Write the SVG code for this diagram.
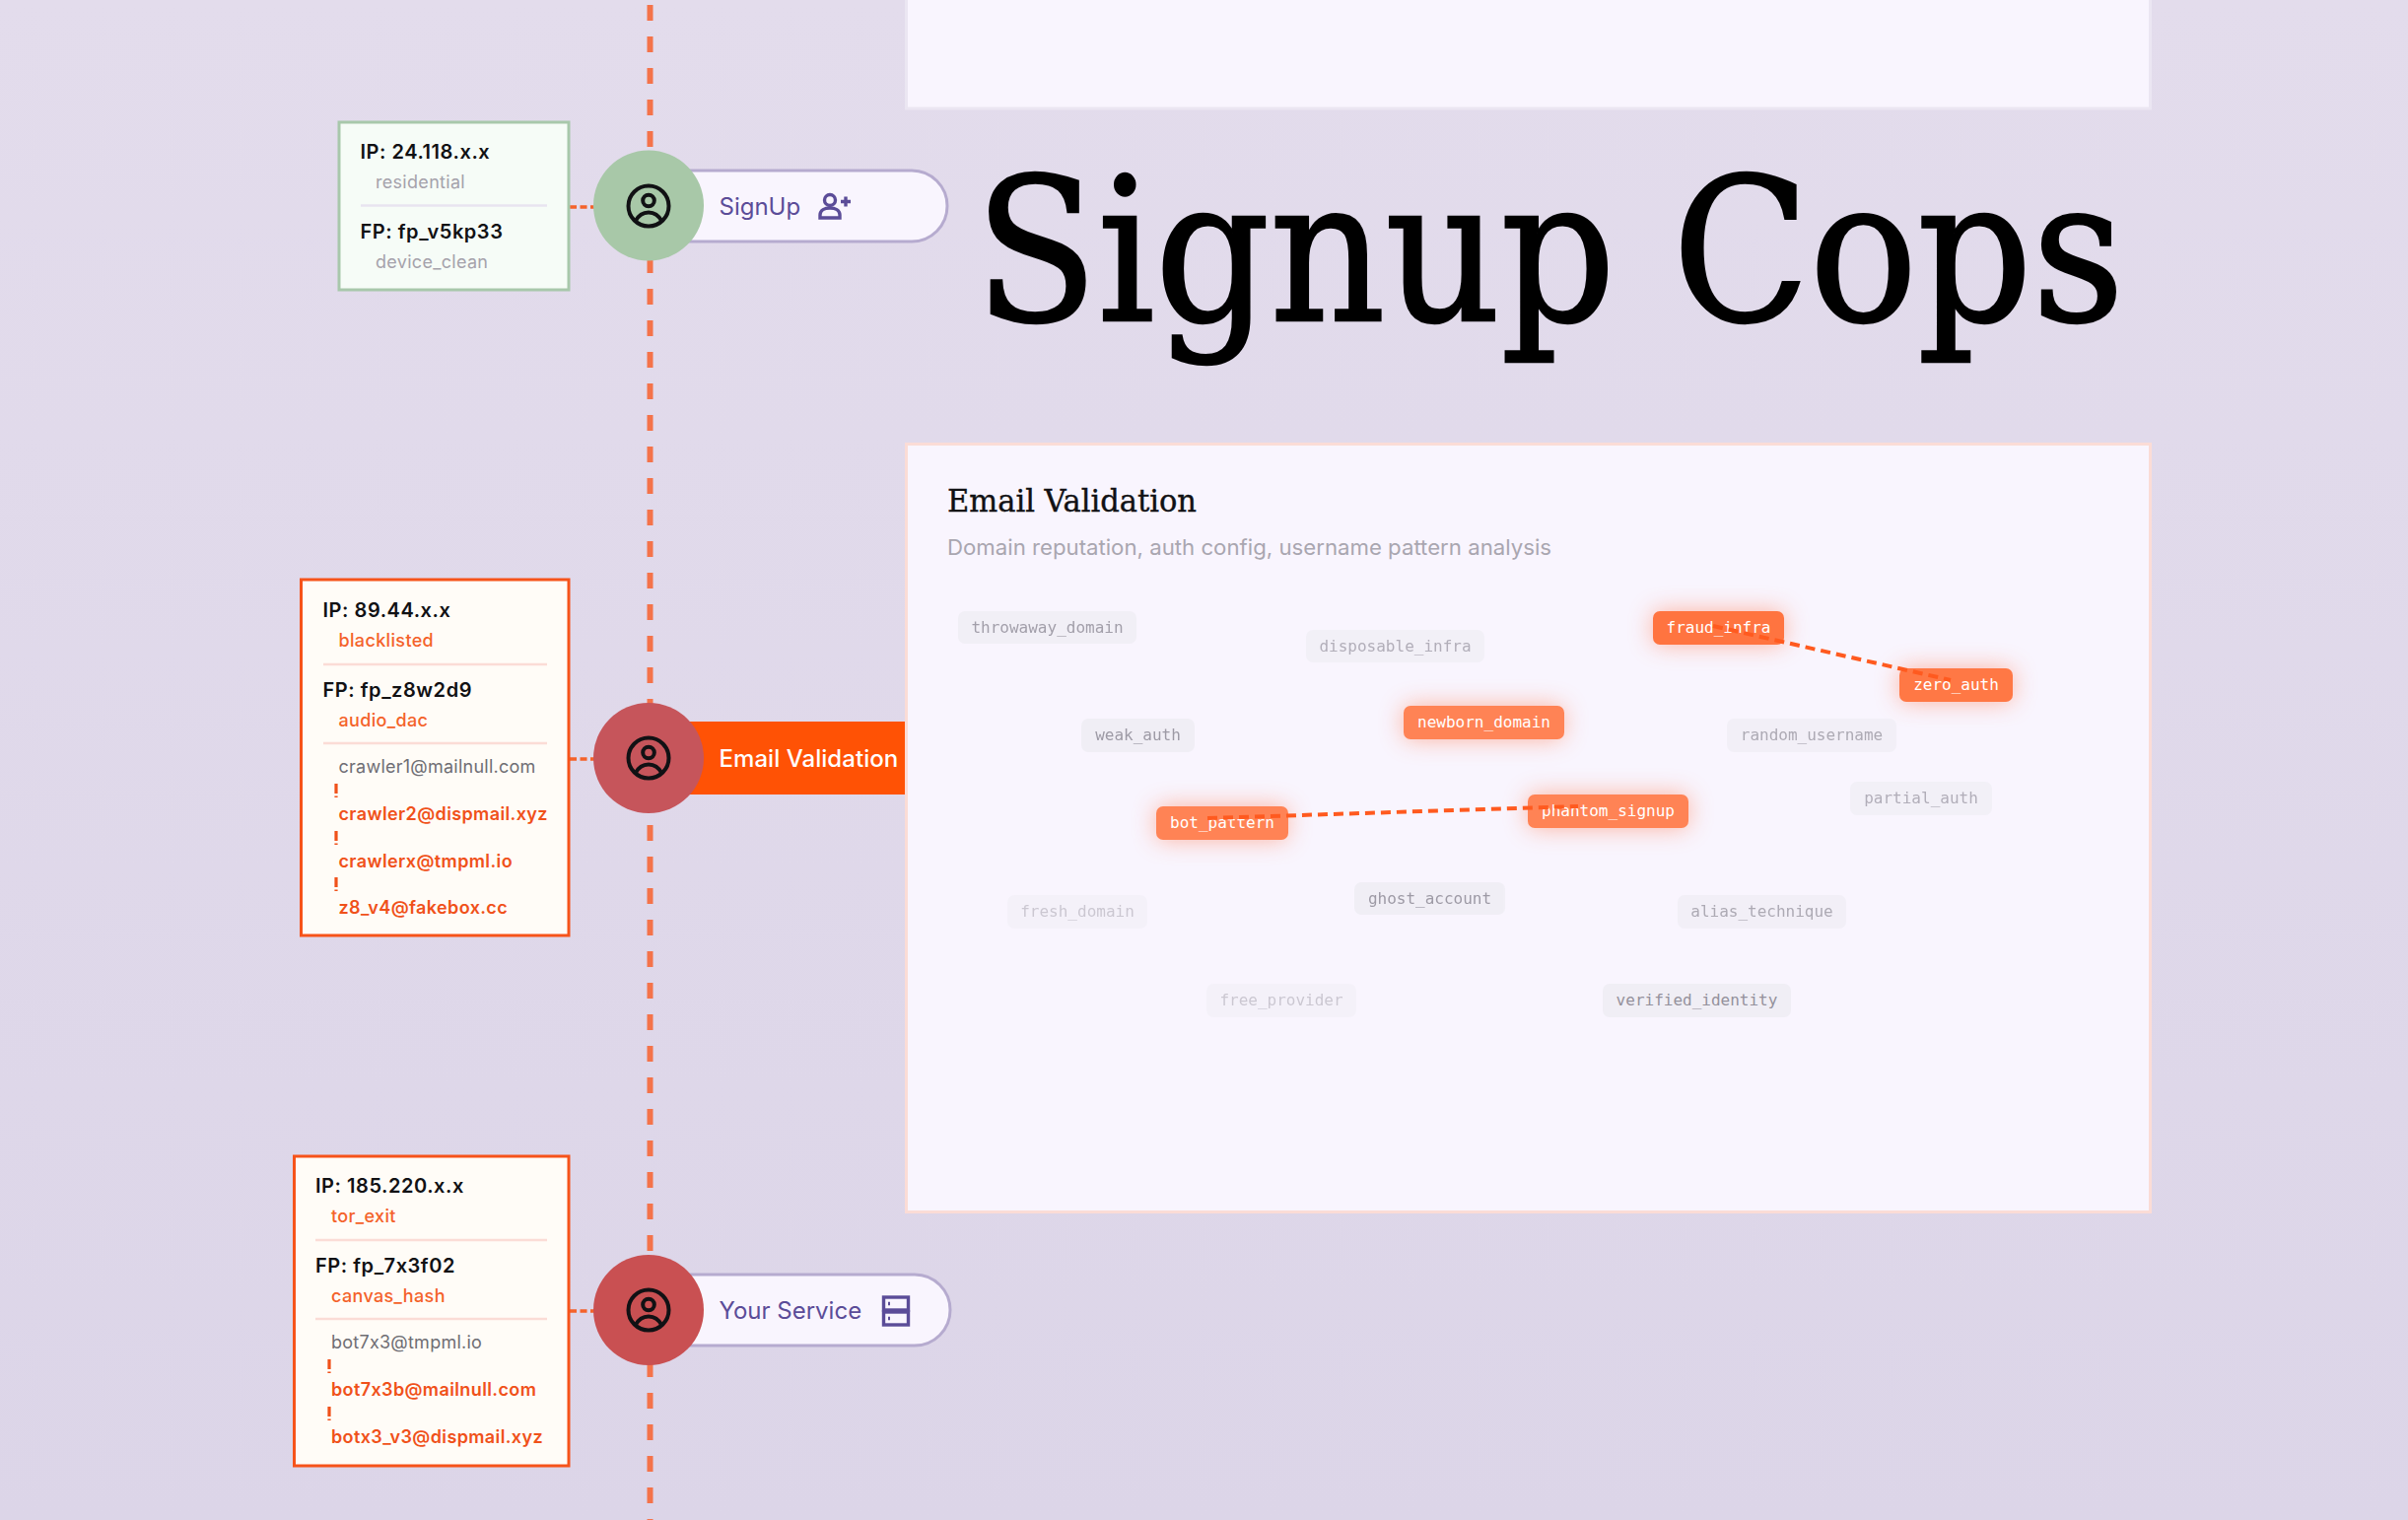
<svg xmlns="http://www.w3.org/2000/svg" width="2443" height="1542" viewBox="0 0 2443 1542">
<style>
text{font-variant-ligatures:none;font-feature-settings:"calt" 0,"liga" 0}
.sans{font-family:"Inter","Liberation Sans",sans-serif}
.head{font-size:20px;font-weight:600;letter-spacing:.55px;fill:#111114;font-family:"Inter","Liberation Sans",sans-serif}
.sub{font-size:18px;letter-spacing:.3px;font-family:"Inter","Liberation Sans",sans-serif}
.grey{fill:#a5a2ab}
.or{fill:#f4622a;font-weight:500;letter-spacing:.35px}
.mail{font-size:18px;font-family:"Inter","Liberation Sans",sans-serif}
.mailg{fill:#6f6e74;letter-spacing:.25px}
.mailr{fill:#f0511a;font-weight:600;letter-spacing:.38px}
.lab{font-size:24px;fill:#5b4c98;font-family:"Inter","Liberation Sans",sans-serif}
.chip{font-family:"DejaVu Sans Mono","Liberation Mono",monospace;font-size:16px;text-anchor:middle}
.cg rect{fill:#f0eef5}
.cg text{fill:#94919c}
.co text{fill:#fff}
.ico{fill:none;stroke:#111114;stroke-width:4}
.ptr{fill:none;stroke:#5b4c98;stroke-width:3.4}
.sep{stroke-width:2.5}
.link{stroke:#ff5a1f;stroke-width:4;stroke-dasharray:10 6;fill:none}
.tick{stroke:#f0511a;stroke-width:3.2;stroke-dasharray:10 2.5 3 20;fill:none}
.stub{stroke:#f4622a;stroke-width:3.6;stroke-dasharray:7 3.5;fill:none}
.card{fill:#f9f5fe}
.pill{fill:#f9f5fe;stroke:#b6abcf;stroke-width:3}
</style>
<defs>
<linearGradient id="bg" x1="0" y1="0" x2="0" y2="1"><stop offset="0" stop-color="#e3dcec"/><stop offset="1" stop-color="#dcd5e8"/></linearGradient>
<filter id="glow" x="-50%" y="-150%" width="200%" height="400%"><feGaussianBlur stdDeviation="12"/></filter>
<g id="person"><circle cx="0" cy="0" r="20.5" class="ico"/><circle cx="0" cy="-5.5" r="5.8" class="ico"/><path d="M-13.5 15.5C-9.5 8-4 6.5 0 6.5S9.5 8 13.5 15.5" class="ico"/></g>
</defs>
<rect width="2443" height="1542" fill="url(#bg)"/>
<g id="connectors">
<line x1="659.5" y1="5" x2="659.5" y2="1542" stroke="#f4734a" stroke-width="6" stroke-dasharray="16 16"/>
<line x1="578" y1="210" x2="603" y2="210" class="stub"/>
<line x1="578" y1="770" x2="603" y2="770" class="stub"/>
<line x1="578" y1="1330" x2="603" y2="1330" class="stub"/>
</g>
<g id="title"><text x="989" y="325" font-family="DejaVu Serif Condensed,DejaVu Serif,serif" font-size="202" fill="#000" stroke="#000" stroke-width="2.4" textLength="1166" lengthAdjust="spacingAndGlyphs">Signup Cops</text></g>
<g id="card-top"><rect x="919.5" y="-10" width="1262" height="120" class="card" stroke="#ebe6f2" stroke-width="3"/></g>
<g id="card-email">
<rect x="919.5" y="450.5" width="1262" height="779" class="card" stroke="#fbdcd6" stroke-width="3"/>
<text x="961" y="519" font-family="DejaVu Serif Condensed,DejaVu Serif,serif" font-size="31" fill="#111114" stroke="#111114" stroke-width=".35" textLength="253" lengthAdjust="spacingAndGlyphs">Email Validation</text>
<text x="961" y="562.5" class="sans" font-size="21.5" fill="#a9a6b0" textLength="613" lengthAdjust="spacingAndGlyphs">Domain reputation, auth config, username pattern analysis</text>
</g>
<g id="chips">
<g filter="url(#glow)" fill="#ff7043" opacity="0.5">
<rect x="1424" y="716" width="162" height="34" rx="7"/><rect x="1173" y="818" width="133" height="34" rx="7"/><rect x="1550" y="806" width="163" height="34" rx="7"/><rect x="1677" y="620" width="133" height="34" rx="7"/><rect x="1927" y="678" width="115" height="34" rx="7"/>
</g>
<g id="chip-throwaway_domain" class="cg" opacity=".85"><rect x="972" y="620" width="181" height="33" rx="7"/><text x="1062.5" y="642" class="chip">throwaway_domain</text></g>
<g id="chip-disposable_infra" class="cg" opacity=".7"><rect x="1325" y="639" width="181" height="33" rx="7"/><text x="1415.5" y="661" class="chip">disposable_infra</text></g>
<g id="chip-weak_auth" class="cg" opacity=".9"><rect x="1097" y="729" width="115" height="34" rx="7"/><text x="1154.5" y="751" class="chip">weak_auth</text></g>
<g id="chip-random_username" class="cg" opacity=".75"><rect x="1752" y="729" width="172" height="34" rx="7"/><text x="1838" y="751" class="chip">random_username</text></g>
<g id="chip-partial_auth" class="cg" opacity=".7"><rect x="1877" y="793" width="144" height="34" rx="7"/><text x="1949" y="815" class="chip">partial_auth</text></g>
<g id="chip-fresh_domain" class="cg" opacity=".45"><rect x="1022" y="908" width="142" height="34" rx="7"/><text x="1093" y="930" class="chip">fresh_domain</text></g>
<g id="chip-ghost_account" class="cg" opacity=".9"><rect x="1374" y="895" width="153" height="33" rx="7"/><text x="1450.5" y="917" class="chip">ghost_account</text></g>
<g id="chip-alias_technique" class="cg" opacity=".75"><rect x="1702" y="908" width="171" height="34" rx="7"/><text x="1787.5" y="930" class="chip">alias_technique</text></g>
<g id="chip-free_provider" class="cg" opacity=".45"><rect x="1224" y="998" width="152" height="34" rx="7"/><text x="1300" y="1020" class="chip">free_provider</text></g>
<g id="chip-verified_identity" class="cg" opacity="1"><rect x="1626" y="998" width="191" height="34" rx="7"/><text x="1721.5" y="1020" class="chip">verified_identity</text></g>
<g id="chip-newborn_domain" class="co"><rect x="1424" y="716" width="163" height="34" rx="7" fill="#ff8355"/><text x="1505.5" y="738" class="chip">newborn_domain</text></g>
<g id="chip-bot_pattern" class="co"><rect x="1173" y="818" width="134" height="34" rx="7" fill="#ff8355"/><text x="1240" y="840" class="chip">bot_pattern</text></g>
<g id="chip-phantom_signup" class="co"><rect x="1550" y="806" width="163" height="34" rx="7" fill="#ff8355"/><text x="1631.5" y="828" class="chip">phantom_signup</text></g>
<g id="chip-fraud_infra" class="co"><rect x="1677" y="620" width="133" height="34" rx="7" fill="#ff7440"/><text x="1743.5" y="642" class="chip">fraud_infra</text></g>
<g id="chip-zero_auth" class="co"><rect x="1927" y="678" width="115" height="34" rx="7" fill="#ff7845"/><text x="1984.5" y="700" class="chip">zero_auth</text></g>
</g>
<g id="chip-links">
<line x1="1738" y1="635" x2="1979" y2="690" class="link"/>
<line x1="1225" y1="830" x2="1601" y2="818" class="link"/>
</g>
<g id="node-signup">
<rect x="640" y="173" width="321" height="72" rx="36" class="pill"/>
<circle cx="658" cy="208.5" r="56" fill="#a8c8a8"/>
<use href="#person" x="658" y="209"/>
<text x="729.5" y="218" class="lab">SignUp</text>
<g class="ptr"><circle cx="842" cy="203" r="5.5"/><path d="M832 221v-3c0-5 5-7 10-7s10 2 10 7v3zM853 204.5h10M858 199.5v10"/></g>
</g>
<g id="node-email">
<rect x="658" y="732" width="260" height="74" fill="#ff5205"/>
<circle cx="658" cy="769" r="56" fill="#c6555b"/>
<use href="#person" x="658" y="769"/>
<text x="729.5" y="778" class="lab" style="fill:#fff;letter-spacing:.05px" font-weight="500">Email Validation</text>
</g>
<g id="node-service">
<rect x="640" y="1293" width="324" height="72" rx="36" class="pill"/>
<circle cx="658" cy="1329" r="56" fill="#c95052"/>
<use href="#person" x="658" y="1329"/>
<text x="729.5" y="1338" class="lab">Your Service</text>
<g class="ptr"><rect x="896.5" y="1316" width="25" height="13"/><rect x="896.5" y="1331" width="25" height="13"/><path d="M901 1322.5h2M901 1337.5h2"/></g>
</g>
<g id="box-signup">
<rect x="344" y="124" width="233" height="170" fill="#f6fcf7" stroke="#a8c8ab" stroke-width="3"/>
<text x="365.5" y="161" class="head">IP: 24.118.x.x</text>
<text x="381" y="191" class="sub grey">residential</text>
<line x1="366" y1="208.5" x2="555" y2="208.5" stroke="#e8e4f0" class="sep"/>
<text x="365.5" y="242" class="head">FP: fp_v5kp33</text>
<text x="381" y="272" class="sub grey">device_clean</text>
</g>
<g id="box-email">
<rect x="305.5" y="588" width="271.5" height="361" fill="#fffcf7" stroke="#f6531a" stroke-width="3"/>
<text x="327.5" y="626" class="head">IP: 89.44.x.x</text>
<text x="343.5" y="656" class="sub or">blacklisted</text>
<line x1="328" y1="674" x2="555" y2="674" stroke="#fbdcd6" class="sep"/>
<text x="327.5" y="707" class="head">FP: fp_z8w2d9</text>
<text x="343.5" y="737" class="sub or">audio_dac</text>
<line x1="328" y1="754" x2="555" y2="754" stroke="#fbdcd6" class="sep"/>
<text x="343.5" y="783.5" class="mail mailg">crawler1@mailnull.com</text>
<line x1="341" y1="795" x2="341" y2="809" class="tick"/>
<text x="343.5" y="832" class="mail mailr">crawler2@dispmail.xyz</text>
<line x1="341" y1="843" x2="341" y2="857" class="tick"/>
<text x="343.5" y="880" class="mail mailr">crawlerx@tmpml.io</text>
<line x1="341" y1="890" x2="341" y2="904" class="tick"/>
<text x="343.5" y="927" class="mail mailr">z8_v4@fakebox.cc</text>
</g>
<g id="box-service">
<rect x="298.5" y="1173" width="278.5" height="314" fill="#fffcf7" stroke="#f6531a" stroke-width="3"/>
<text x="320" y="1210" class="head">IP: 185.220.x.x</text>
<text x="336" y="1240" class="sub or">tor_exit</text>
<line x1="320" y1="1258" x2="555" y2="1258" stroke="#fbdcd6" class="sep"/>
<text x="320" y="1291" class="head">FP: fp_7x3f02</text>
<text x="336" y="1321" class="sub or">canvas_hash</text>
<line x1="320" y1="1338" x2="555" y2="1338" stroke="#fbdcd6" class="sep"/>
<text x="336" y="1368" class="mail mailg">bot7x3@tmpml.io</text>
<line x1="334" y1="1379" x2="334" y2="1393" class="tick"/>
<text x="336" y="1416" class="mail mailr">bot7x3b@mailnull.com</text>
<line x1="334" y1="1427" x2="334" y2="1441" class="tick"/>
<text x="336" y="1464" class="mail mailr">botx3_v3@dispmail.xyz</text>
</g>
</svg>
